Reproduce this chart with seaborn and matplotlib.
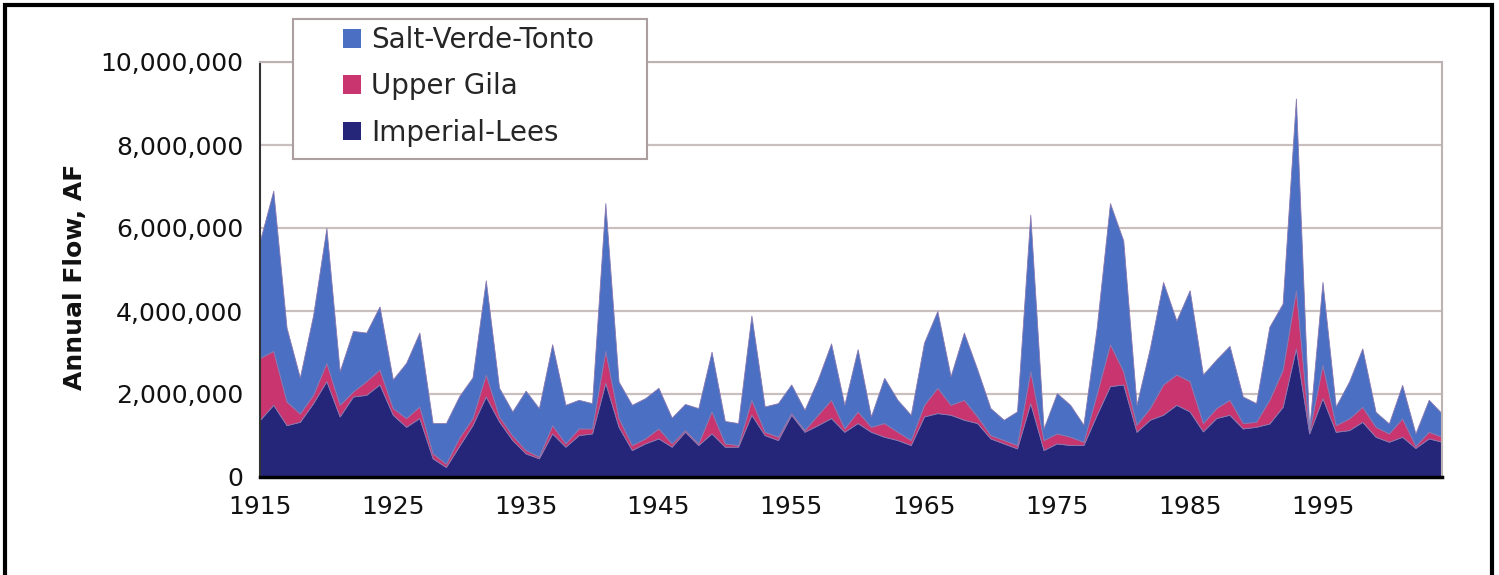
import pandas as pd
import seaborn as sns
import matplotlib.pyplot as plt
from matplotlib.patches import Patch, Rectangle
from matplotlib.ticker import FuncFormatter

YEARS = list(range(1915, 2005))

# annual flow in million acre-feet
IMPERIAL_LEES = [
    1.38, 1.74, 1.25, 1.33, 1.78, 2.31, 1.46, 1.94, 1.98, 2.23,
    1.50, 1.21, 1.42, 0.45, 0.24, 0.75, 1.25, 1.94, 1.34, 0.89,
    0.57, 0.45, 1.05, 0.73, 1.01, 1.05, 2.27, 1.21, 0.65, 0.81,
    0.93, 0.73, 1.09, 0.77, 1.05, 0.73, 0.73, 1.50, 1.01, 0.89,
    1.50, 1.09, 1.25, 1.42, 1.09, 1.30, 1.09, 0.97, 0.89, 0.77,
    1.46, 1.54, 1.50, 1.38, 1.30, 0.93, 0.81, 0.69, 1.78, 0.65,
    0.81, 0.77, 0.77, 1.50, 2.19, 2.23, 1.09, 1.38, 1.50, 1.74,
    1.58, 1.10, 1.42, 1.50, 1.17, 1.21, 1.29, 1.69, 3.10, 1.05,
    1.90, 1.09, 1.13, 1.33, 0.97, 0.85, 0.97, 0.70, 0.93, 0.85,
]
UPPER_GILA = [
    1.49, 1.30, 0.57, 0.20, 0.20, 0.44, 0.28, 0.12, 0.33, 0.36,
    0.16, 0.21, 0.28, 0.12, 0.08, 0.20, 0.17, 0.53, 0.12, 0.11,
    0.08, 0.04, 0.20, 0.08, 0.16, 0.12, 0.77, 0.21, 0.12, 0.12,
    0.24, 0.08, 0.04, 0.04, 0.53, 0.08, 0.04, 0.36, 0.08, 0.08,
    0.04, 0.04, 0.25, 0.44, 0.08, 0.28, 0.12, 0.33, 0.20, 0.12,
    0.28, 0.61, 0.24, 0.48, 0.16, 0.08, 0.08, 0.08, 0.77, 0.24,
    0.24, 0.20, 0.08, 0.50, 1.01, 0.32, 0.17, 0.28, 0.73, 0.73,
    0.73, 0.20, 0.24, 0.36, 0.13, 0.12, 0.57, 0.89, 1.40, 0.05,
    0.80, 0.16, 0.28, 0.36, 0.24, 0.20, 0.44, 0.05, 0.16, 0.12,
]
SALT_VERDE_TONTO = [
    2.83, 3.86, 1.78, 0.87, 1.92, 3.25, 0.81, 1.46, 1.17, 1.52,
    0.69, 1.33, 1.78, 0.73, 0.98, 1.00, 0.98, 2.27, 0.69, 0.58,
    1.43, 1.17, 1.95, 0.93, 0.69, 0.61, 3.56, 0.88, 0.97, 0.97,
    0.98, 0.62, 0.63, 0.85, 1.44, 0.54, 0.53, 2.03, 0.61, 0.81,
    0.69, 0.49, 0.85, 1.36, 0.57, 1.50, 0.25, 1.09, 0.77, 0.61,
    1.50, 1.85, 0.69, 1.62, 1.14, 0.65, 0.49, 0.81, 3.77, 0.28,
    0.97, 0.77, 0.41, 1.60, 3.40, 3.15, 0.48, 1.44, 2.47, 1.30,
    2.19, 1.17, 1.17, 1.30, 0.64, 0.45, 1.76, 1.60, 4.62, 0.05,
    2.00, 0.45, 0.89, 1.41, 0.36, 0.24, 0.81, 0.30, 0.77, 0.56,
]

SERIES = ["Imperial-Lees", "Upper Gila", "Salt-Verde-Tonto"]
COLORS = {"Imperial-Lees": "#25267a", "Upper Gila": "#c8356f",
          "Salt-Verde-Tonto": "#4b6fc2"}

W, H = 1499, 575


def main():
    df = pd.DataFrame({
        "Imperial-Lees": IMPERIAL_LEES,
        "Upper Gila": UPPER_GILA,
        "Salt-Verde-Tonto": SALT_VERDE_TONTO,
    }, index=YEARS) * 1e6

    sns.set_theme(style="white")
    plt.rcParams["font.family"] = ["DejaVu Sans"]

    fig = plt.figure(figsize=(W / 100, H / 100), dpi=100)
    fig.patch.set_facecolor("white")
    ax = fig.add_axes([260 / W, 1 - 477 / H, (1442 - 260) / W, (477 - 62) / H])

    ax.stackplot(df.index, *[df[s] for s in SERIES],
                 colors=[COLORS[s] for s in SERIES],
                 edgecolor="#8a78b0", linewidth=0.6, zorder=2)

    ax.set_xlim(1915, 2004)
    ax.set_ylim(0, 10_000_000)
    ax.set_xticks(range(1915, 2000, 10))
    ax.set_yticks(range(0, 10_000_001, 2_000_000))
    ax.yaxis.set_major_formatter(FuncFormatter(lambda v, p: f"{v:,.0f}"))

    ax.set_axisbelow(True)
    ax.yaxis.grid(True, color="#cabfbf", linewidth=1.6)
    ax.xaxis.grid(False)

    for side in ["top", "right"]:
        ax.spines[side].set_color("#bdb2b2")
        ax.spines[side].set_linewidth(1.5)
    ax.spines["left"].set_color("#333333")
    ax.spines["left"].set_linewidth(1.5)
    ax.spines["bottom"].set_color("black")
    ax.spines["bottom"].set_linewidth(2.5)
    ax.spines["bottom"].set_zorder(3)

    ax.tick_params(axis="both", which="major", direction="out", length=6,
                   width=1.3, color="#333333", labelsize=18, labelcolor="#111111")
    ax.tick_params(axis="y", pad=6)
    ax.tick_params(axis="x", pad=7)

    fig.text(75 / W, 1 - 277 / H, "Annual Flow, AF", rotation=90,
             ha="center", va="center", fontsize=18, fontweight="bold",
             color="#111111")

    # legend box, drawn over the top of the plot area
    fig.add_artist(Rectangle((293 / W, 1 - 159 / H), (647 - 293) / W, (159 - 19) / H,
                             transform=fig.transFigure, facecolor="white",
                             edgecolor="#ab9f9f", linewidth=1.5, zorder=5))
    order = ["Salt-Verde-Tonto", "Upper Gila", "Imperial-Lees"]
    handles = [Patch(facecolor=COLORS[s], edgecolor="none") for s in order]
    leg = fig.legend(handles, order, loc="upper left",
                     bbox_to_anchor=(343 / W, 1 - 26 / H),
                     bbox_transform=fig.transFigure, frameon=False,
                     borderpad=0, borderaxespad=0, fontsize=20,
                     handlelength=0.65, handleheight=0.65,
                     handletextpad=0.35, labelspacing=0.66)
    leg.set_zorder(6)

    # outer frame of the figure
    fig.add_artist(Rectangle((5 / W, -0.05), (1492 - 5) / W, 1 - 5 / H + 0.05,
                             transform=fig.transFigure, fill=False,
                             edgecolor="black", linewidth=3, zorder=10))

    fig.savefig("out.png", dpi=100)


if __name__ == "__main__":
    main()
